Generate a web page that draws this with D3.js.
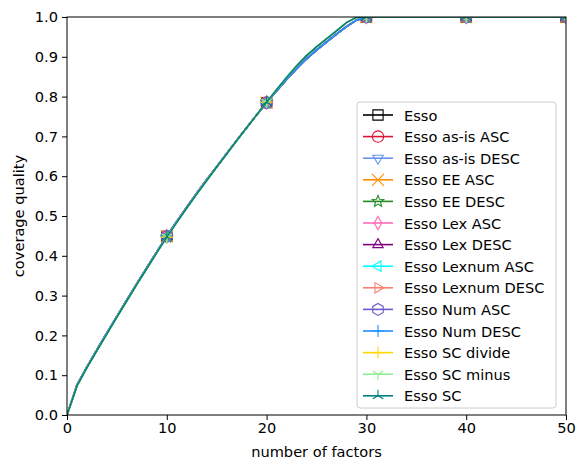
<!DOCTYPE html>
<html>
<head>
<meta charset="utf-8">
<script src="https://cdn.jsdelivr.net/npm/d3@7"></script>
<style>
  body { margin: 0; background: #fff; }
  text { font-family: "DejaVu Sans", sans-serif; }
</style>
</head>
<body>
<svg width="582" height="466"></svg>
<script>
// number of factors
const factors = [0, 1, 2, 3, 4, 5, 6, 7, 8, 9, 10, 11, 12, 13, 14, 15, 16, 17, 18, 19, 20,
  21, 22, 23, 24, 25, 26, 27, 28, 29, 30, 31, 32, 33, 34, 35, 36, 37, 38, 39, 40,
  41, 42, 43, 44, 45, 46, 47, 48, 49, 50];

// coverage quality, most strategies
const qualityLow = [0, 0.075, 0.121, 0.164, 0.206, 0.248, 0.289, 0.330, 0.370, 0.410, 0.449,
  0.486, 0.522, 0.557, 0.591, 0.624, 0.657, 0.690, 0.722, 0.754, 0.785,
  0.814, 0.843, 0.870, 0.895, 0.917, 0.937, 0.957, 0.976, 0.992, 1.0,
  1, 1, 1, 1, 1, 1, 1, 1, 1, 1, 1, 1, 1, 1, 1, 1, 1, 1, 1, 1];

// coverage quality, a bit faster to saturate
const qualityHigh = [0, 0.073, 0.119, 0.162, 0.204, 0.246, 0.287, 0.328, 0.368, 0.408, 0.447,
  0.484, 0.520, 0.555, 0.589, 0.623, 0.656, 0.689, 0.722, 0.754, 0.786,
  0.817, 0.848, 0.877, 0.903, 0.925, 0.945, 0.965, 0.986, 0.999, 1.0,
  1, 1, 1, 1, 1, 1, 1, 1, 1, 1, 1, 1, 1, 1, 1, 1, 1, 1, 1, 1];

const seriesNames = ['Esso', 'Esso as-is ASC', 'Esso as-is DESC', 'Esso EE ASC', 'Esso EE DESC',
  'Esso Lex ASC', 'Esso Lex DESC', 'Esso Lexnum ASC', 'Esso Lexnum DESC', 'Esso Num ASC',
  'Esso Num DESC', 'Esso SC divide', 'Esso SC minus', 'Esso SC'];
const seriesData = [qualityLow, qualityLow, qualityLow, qualityLow, qualityHigh,
  qualityLow, qualityLow, qualityLow, qualityLow, qualityLow,
  qualityLow, qualityHigh, qualityHigh, qualityHigh];
const colors = ['black', 'crimson', 'cornflowerblue', 'darkorange', 'forestgreen',
  'hotpink', 'purple', 'cyan', 'salmon', 'slateblue',
  'dodgerblue', 'gold', 'lightgreen', 'teal'];
const markers = ['square', 'circle', 'tridown', 'x', 'star', 'diamond', 'triup',
  'trileft', 'triright', 'hexagon', 'plus', 'plus', 'y1', 'y2'];

const xTicks = [0, 10, 20, 30, 40, 50];
const yTicks = [0, 0.1, 0.2, 0.3, 0.4, 0.5, 0.6, 0.7, 0.8, 0.9, 1.0];
const markEvery = [10, 20, 30, 40, 50];

const svg = d3.select('svg');
const margin = { left: 67, right: 16, top: 17, bottom: 51 };
const W = 582 - margin.left - margin.right;
const H = 466 - margin.top - margin.bottom;
const fs = 14.6;

const x = d3.scaleLinear().domain([0, 50]).range([0, W]);
const y = d3.scaleLinear().domain([0, 1]).range([H, 0]);

const g = svg.append('g').attr('transform', `translate(${margin.left},${margin.top})`);

g.append('clipPath').attr('id', 'clip')
  .append('rect').attr('width', W).attr('height', H);

// marker paths centred at 0,0
function markerPath(type, r) {
  const p = d3.path();
  const tri = (a) => {
    for (let i = 0; i < 3; i++) {
      const ang = a + i * 2 * Math.PI / 3;
      const px = r * Math.cos(ang), py = r * Math.sin(ang);
      if (i === 0) p.moveTo(px, py); else p.lineTo(px, py);
    }
    p.closePath();
  };
  const spokes = (a) => {
    for (let i = 0; i < 3; i++) {
      const ang = a + i * 2 * Math.PI / 3;
      p.moveTo(0, 0); p.lineTo(r * Math.cos(ang), r * Math.sin(ang));
    }
  };
  switch (type) {
    case 'square': p.rect(-r * 0.85, -r * 0.85, r * 1.7, r * 1.7); break;
    case 'circle': p.arc(0, 0, r * 0.95, 0, 2 * Math.PI); break;
    case 'tridown': tri(Math.PI / 2); break;
    case 'triup': tri(-Math.PI / 2); break;
    case 'trileft': tri(Math.PI); break;
    case 'triright': tri(0); break;
    case 'x': p.moveTo(-r, -r); p.lineTo(r, r); p.moveTo(-r, r); p.lineTo(r, -r); break;
    case 'plus': p.moveTo(-r, 0); p.lineTo(r, 0); p.moveTo(0, -r); p.lineTo(0, r); break;
    case 'diamond': p.moveTo(0, -r * 1.1); p.lineTo(r * 0.65, 0); p.lineTo(0, r * 1.1); p.lineTo(-r * 0.65, 0); p.closePath(); break;
    case 'hexagon':
      for (let i = 0; i < 6; i++) {
        const ang = -Math.PI / 2 + i * Math.PI / 3;
        if (i === 0) p.moveTo(r * Math.cos(ang), r * Math.sin(ang));
        else p.lineTo(r * Math.cos(ang), r * Math.sin(ang));
      }
      p.closePath(); break;
    case 'star':
      for (let i = 0; i < 10; i++) {
        const ang = -Math.PI / 2 + i * Math.PI / 5;
        const rr = i % 2 ? r * 0.45 : r;
        if (i === 0) p.moveTo(rr * Math.cos(ang), rr * Math.sin(ang));
        else p.lineTo(rr * Math.cos(ang), rr * Math.sin(ang));
      }
      p.closePath(); break;
    case 'y1': spokes(Math.PI / 2); break;
    case 'y2': spokes(-Math.PI / 2); break;
  }
  return p.toString();
}

const line = d3.line().x((d, i) => x(factors[i])).y((d) => y(d));

const plot = g.append('g').attr('clip-path', 'url(#clip)');

seriesNames.forEach((name, k) => {
  const vals = seriesData[k];
  plot.append('path')
    .datum(vals)
    .attr('d', line)
    .attr('fill', 'none')
    .attr('stroke', colors[k])
    .attr('stroke-width', 1.6);
  plot.selectAll(null)
    .data(markEvery)
    .enter()
    .append('path')
    .attr('transform', (f) => `translate(${x(f)},${y(vals[factors.indexOf(f)])})`)
    .attr('d', markerPath(markers[k], 6))
    .attr('fill', 'none')
    .attr('stroke', colors[k])
    .attr('stroke-width', 1.1);
});

// axes
const xAxis = g.append('g').attr('transform', `translate(0,${H})`)
  .call(d3.axisBottom(x).tickValues(xTicks).tickFormat(d3.format('d')).tickSize(5).tickPadding(3));
const yAxis = g.append('g')
  .call(d3.axisLeft(y).tickValues(yTicks).tickFormat(d3.format('.1f')).tickSize(5).tickPadding(4));
[xAxis, yAxis].forEach((a) => {
  a.selectAll('text').attr('font-size', fs).attr('fill', '#000').attr('font-family', 'DejaVu Sans');
  a.selectAll('line').attr('stroke', '#000').attr('stroke-width', 1);
  a.select('.domain').remove();
});

// frame
g.append('rect').attr('width', W).attr('height', H)
  .attr('fill', 'none').attr('stroke', '#000').attr('stroke-width', 1);

svg.append('text')
  .attr('x', margin.left + W / 2).attr('y', 457)
  .attr('text-anchor', 'middle').attr('font-size', fs)
  .text('number of factors');
svg.append('text')
  .attr('transform', `translate(24,${margin.top + H / 2}) rotate(-90)`)
  .attr('text-anchor', 'middle').attr('font-size', fs)
  .text('coverage quality');

// legend
const lg = svg.append('g').attr('transform', 'translate(357,102)');
lg.append('rect').attr('width', 199).attr('height', 306).attr('rx', 3)
  .attr('fill', 'white').attr('fill-opacity', 0.8)
  .attr('stroke', '#cccccc').attr('stroke-width', 1);
const rowH = 21.6;
seriesNames.forEach((name, k) => {
  const row = lg.append('g').attr('transform', `translate(0,${13 + k * rowH})`);
  row.append('line').attr('x1', 6).attr('x2', 36)
    .attr('stroke', colors[k]).attr('stroke-width', 1.6);
  row.append('path').attr('transform', 'translate(21,0)')
    .attr('d', markerPath(markers[k], 6))
    .attr('fill', 'none').attr('stroke', colors[k]).attr('stroke-width', 1.1);
  row.append('text').attr('x', 47).attr('y', 5.5)
    .attr('font-size', fs).text(name);
});
</script>
</body>
</html>
